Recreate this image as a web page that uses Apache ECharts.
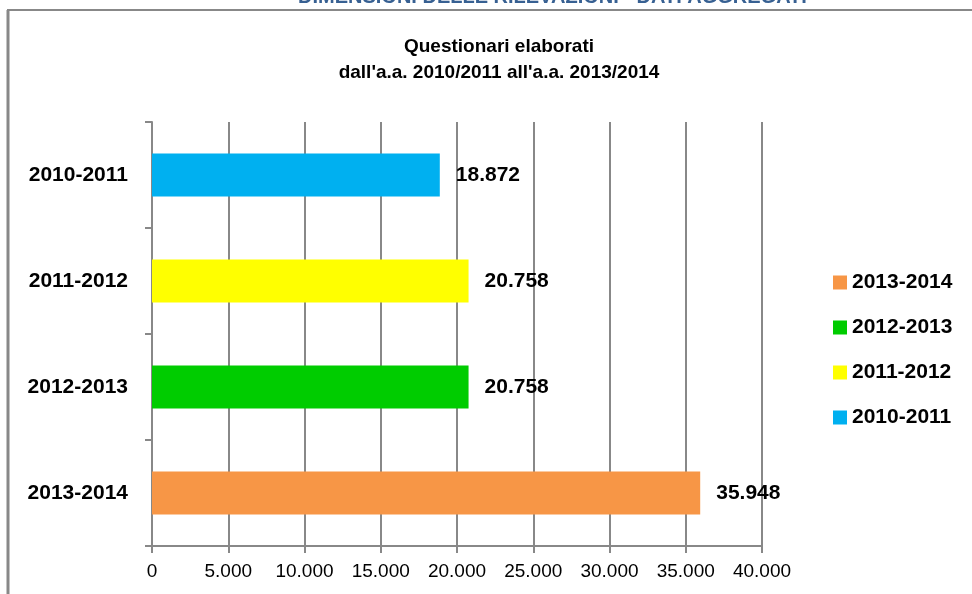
<!DOCTYPE html>
<html style="height: 100%">
<head>
    <meta charset="utf-8">
    <script src="https://cdn.jsdelivr.net/npm/echarts@6/dist/echarts.min.js"></script>
</head>
<body style="height: 100%; margin: 0; background: #fff">
<div id="container" style="width: 972px; height: 594px"></div>
<script>
    // dati
    var categorie = ['2010-2011', '2011-2012', '2012-2013', '2013-2014'];
    var questionari = [18872, 20758, 20758, 35948];
    var colori = ['#00B0F0', '#FFFF00', '#00CC00', '#F79646'];
    var legendaOrdine = ['2013-2014', '2012-2013', '2011-2012', '2010-2011'];
    var tickAsse = [0, 5000, 10000, 15000, 20000, 25000, 30000, 35000, 40000];

    var FONT = '"Liberation Sans", Arial, sans-serif';
    var GRIGIO = '#888888';

    function puntini(v) {
        return String(v).replace(/\B(?=(\d{3})+(?!\d))/g, '.');
    }

    var myChart = echarts.init(document.getElementById('container'));

    // una serie per anno, cosi la legenda ha un colore per voce
    var serie = categorie.map(function (c, i) {
        var d = categorie.map(function (x, j) { return j === i ? questionari[i] : null; });
        return {
            name: c,
            type: 'bar',
            stack: 'tot',
            barWidth: 43,
            itemStyle: {color: colori[i]},
            label: {
                show: true,
                position: 'right',
                distance: 16,
                color: '#000',
                fontFamily: FONT,
                fontWeight: 'bold',
                fontSize: 21,
                formatter: function (p) { return puntini(p.value); }
            },
            data: d
        };
    });

    var option = {
        backgroundColor: '#fff',
        animation: false,
        textStyle: {fontFamily: FONT},
        title: {
            text: 'Questionari elaborati\ndall\'a.a. 2010/2011 all\'a.a. 2013/2014',
            left: 494,
            textAlign: 'center',
            top: 29,
            textStyle: {fontFamily: FONT, fontWeight: 'bold', fontSize: 19, lineHeight: 26, color: '#000'}
        },
        legend: {
            data: legendaOrdine,
            orient: 'vertical',
            left: 833,
            top: 272,
            padding: 0,
            icon: 'rect',
            itemWidth: 14,
            itemHeight: 14,
            itemGap: 24,
            textStyle: {fontFamily: FONT, fontWeight: 'bold', fontSize: 21, color: '#000'}
        },
        grid: {left: 152, right: 210, top: 122, bottom: 48},
        xAxis: {
            type: 'value',
            min: tickAsse[0],
            max: tickAsse[tickAsse.length - 1],
            interval: tickAsse[1] - tickAsse[0],
            axisLine: {show: true, lineStyle: {color: GRIGIO, width: 2}},
            axisTick: {show: true, length: 7, lineStyle: {color: GRIGIO, width: 2}},
            splitLine: {show: true, lineStyle: {color: GRIGIO, width: 2}},
            axisLabel: {
                color: '#000', fontFamily: FONT, fontSize: 19, margin: 16,
                formatter: function (v) { return puntini(v); }
            }
        },
        yAxis: {
            type: 'category',
            inverse: true,
            data: categorie,
            axisLine: {show: true, lineStyle: {color: GRIGIO, width: 2}},
            axisTick: {show: true, length: 7, lineStyle: {color: GRIGIO, width: 2}},
            axisLabel: {color: '#000', fontFamily: FONT, fontWeight: 'bold', fontSize: 21, margin: 24}
        },
        graphic: [
            {
                type: 'text',
                left: 555 - 257,
                top: -13,
                style: {
                    text: 'DIMENSIONI DELLE RILEVAZIONI - DATI AGGREGATI',
                    fill: '#376092',
                    font: 'bold 20px ' + FONT
                }
            },
            {type: 'line', shape: {x1: 7, y1: 10, x2: 972, y2: 10}, style: {stroke: GRIGIO, lineWidth: 2}},
            {type: 'line', shape: {x1: 8, y1: 10, x2: 8, y2: 594}, style: {stroke: GRIGIO, lineWidth: 3}}
        ],
        series: serie
    };

    if (option && typeof option === "object") {
        myChart.setOption(option, true);
    }
</script>
</body>
</html>
